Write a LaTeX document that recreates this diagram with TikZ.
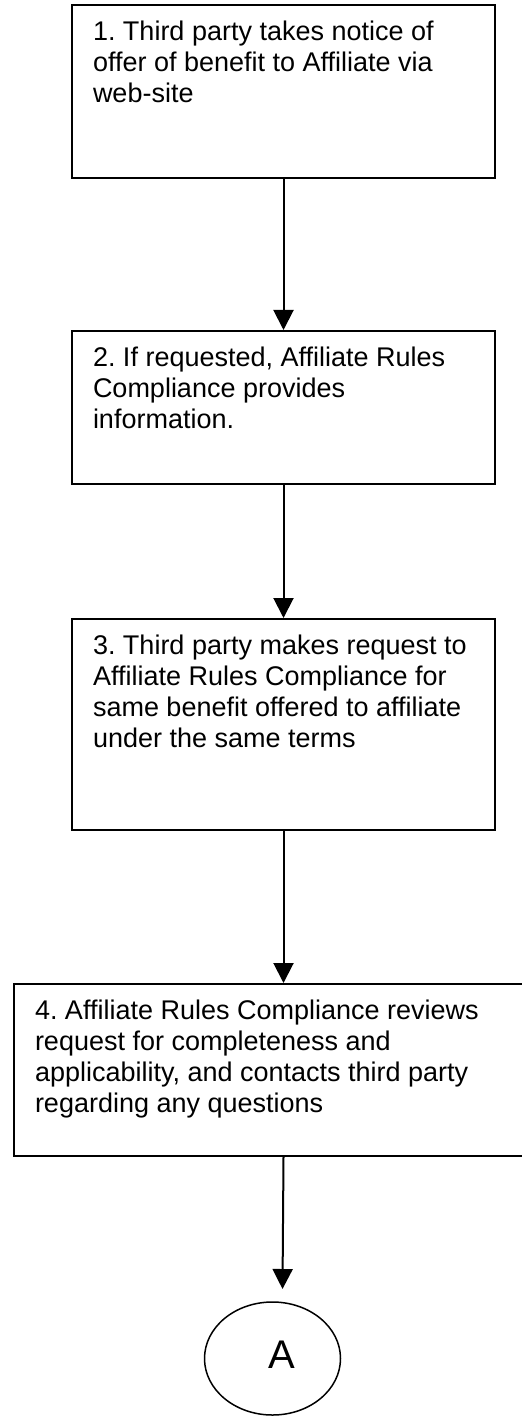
\documentclass[tikz,border=0pt]{standalone}
\usepackage{fontspec}
\setmainfont{Liberation Sans}
\usetikzlibrary{arrows.meta,shapes.geometric}
\frenchspacing
\tikzset{
  stepbox/.style={
    draw,
    line width = 1pt,
    anchor = north west,
    inner xsep = 10.5pt,
    inner ysep = 8pt,
    font = \fontsize{13.5}{15.5}\selectfont
  },
  flow/.style={
    line width = 1pt,
    -{Triangle[width=10pt,length=10pt]}
  },
  connector/.style={
    draw,
    shape = ellipse,
    line width = 0.75pt,
    inner sep = 0pt,
    minimum width = 68pt,
    minimum height = 56.5pt,
    text height = 14.3pt,
    text depth = 4pt,
    font = \fontsize{20}{24}\selectfont
  }
}
\newcommand{\steptext}[3]{\parbox[t][#1][t]{#2}{#3}}

\begin{document}
\begin{tikzpicture}[x=0.5pt,y=-0.5pt]
        \useasboundingbox (0,0) rectangle (522,1416);
        \node[stepbox] (s1) at (71,4) {\steptext{70.5pt}{190.5pt}{1. Third party takes notice of\\offer of benefit to Affiliate via\\web-site}};
        \node[stepbox] (s2) at (71,330) {\steptext{60.5pt}{190.5pt}{2. If requested, Affiliate Rules\\Compliance provides\\information.}};
        \node[stepbox] (s3) at (71,618) {\steptext{89.5pt}{190.5pt}{3. Third party makes request to\\Affiliate Rules Compliance for\\same benefit offered to affiliate\\under the same terms}};
        \node[stepbox] (s4) at (13,983) {\steptext{70pt}{248.5pt}{4. Affiliate Rules Compliance reviews\\request for completeness and\\applicability, and contacts third party\\regarding any questions}};
        \node[connector] (conA) at (272.5,1358.5) {\hspace{9.5pt}A};
        \coordinate (tipA) at (282.5,1289);
        \draw[flow] (s1.south) -- (s2.north);
        \draw[flow] (s2.south) -- (s3.north);
        \draw[flow] (s3.south) -- (s4.north);
        \draw[flow] (s4.south) -- (tipA);
    \end{tikzpicture}
\end{document}
